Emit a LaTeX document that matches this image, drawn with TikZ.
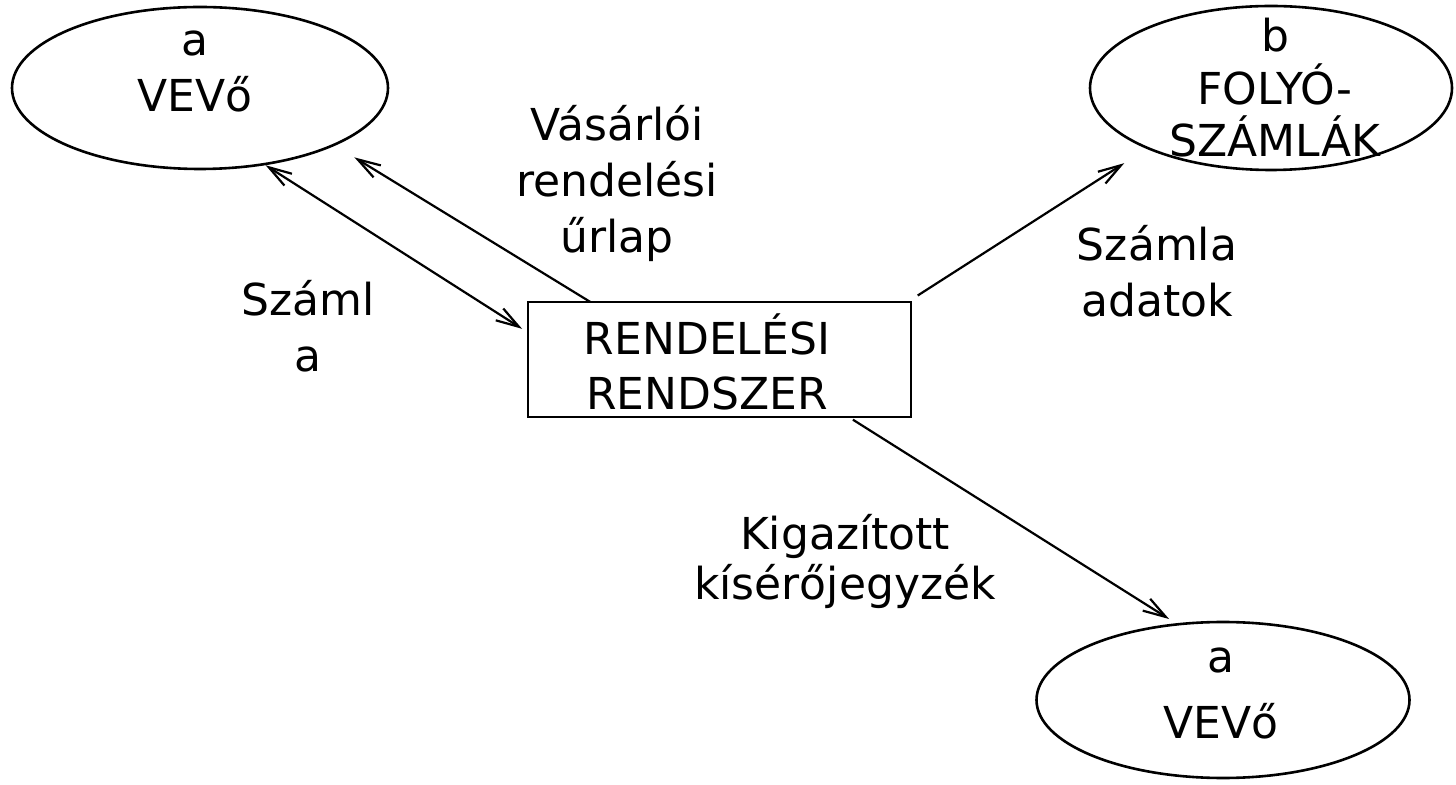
\documentclass[tikz,border=0pt]{standalone}
\usepackage{fontspec}
\setmainfont{DejaVu Sans}
\usetikzlibrary{arrows.meta,shapes.geometric}
\begin{document}
\begin{tikzpicture}[x=0.5pt,y=-0.5pt,
  >={Straight Barb[length=11.5pt,width=7pt]},
  shp/.style={draw, line width=1.3pt, inner sep=0pt, outer sep=0pt},
  oval/.style={shp, ellipse},
  txt/.style={align=center, inner sep=0pt, font=\fontsize{22}{28}\selectfont, anchor=base},
  flow/.style={line width=1.1pt},
]
\useasboundingbox (0,0) rectangle (1456,785);
\node[oval, minimum width=188pt, minimum height=81pt] (vev1) at (200,88) {};
\node[oval, minimum width=181pt, minimum height=82pt] (folyo) at (1271,88) {};
\node[oval, minimum width=186.5pt, minimum height=78pt] (vev2) at (1223,700) {};
\node[shp, rectangle, minimum width=191.5pt, minimum height=57.5pt] (box) at (719.5,359.5) {};

\node[txt] (t1) at (195,112) {a\\VEVő};
\node[txt, font=\fontsize{22}{26.25}\selectfont] (t2) at (1275,157) {b\\FOLYÓ-\\SZÁMLÁK};
\node[txt, font=\fontsize{22}{33}\selectfont] (t3) at (1221,738) {a\\VEVő};
\node[txt, font=\fontsize{22}{27.5}\selectfont] (t4) at (707,410) {RENDELÉSI\\RENDSZER};
\node[txt] (l1) at (617,253) {Vásárlói\\rendelési\\űrlap};
\node[txt] (l2) at (308,372) {Száml\\a};
\node[txt] (l3) at (1157,317) {Számla\\adatok};
\node[txt, font=\fontsize{22}{25}\selectfont] (l4) at (845,600) {Kigazított\\kísérőjegyzék};

\draw[flow, <->, shorten <=1pt, shorten >=3.5pt] (vev1.-50.5) -- (box.172);
\draw[flow, ->, shorten >=12pt] (box.156.4) -- (vev1.-23);
\draw[flow, ->, shorten <=6pt, shorten >=14pt] (box.17) -- (folyo.-154.3);
\draw[flow, ->, shorten <=2.5pt, shorten >=5pt] (box.-24.3) -- (vev2.121.6);
\end{tikzpicture}
\end{document}
